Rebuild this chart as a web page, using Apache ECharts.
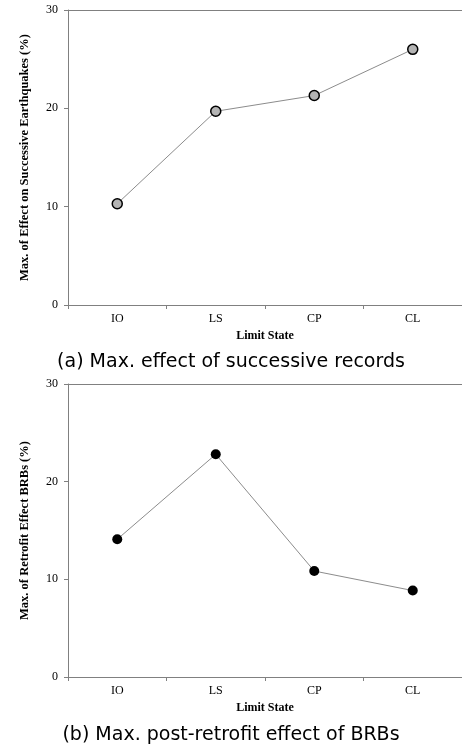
<!DOCTYPE html>
<html>
<head>
<meta charset="utf-8">
<script src="https://cdn.jsdelivr.net/npm/echarts@6/dist/echarts.min.js"></script>
<style>html,body{margin:0;padding:0;background:#fff}#c{width:462px;height:746px}</style>
</head>
<body>
<div id="c"></div>
<script>
var categories = ['IO', 'LS', 'CP', 'CL'];
var successiveEffect = [10.3, 19.7, 21.3, 26.0];
var retrofitEffect = [14.1, 22.8, 10.85, 8.85];
var yTicks = [0, 10, 20, 30];
var captionA = '(a) Max. effect of successive records';
var captionB = '(b) Max. post-retrofit effect of BRBs';
var yNameA = 'Max. of Effect on Successive Earthquakes (%)';
var yNameB = 'Max. of Retrofit Effect BRBs (%)';
var xName = 'Limit State';

var serif = '"Liberation Serif", "Times New Roman", serif';
var sans = '"DejaVu Sans", sans-serif';
var axisColor = '#808080';

function xAxisCfg(gi) {
  return {
    type: 'category', gridIndex: gi, data: categories, boundaryGap: true, position: 'bottom',
    axisLine: {lineStyle: {color: axisColor, width: 1}},
    axisTick: {show: true, inside: false, length: 4, lineStyle: {color: axisColor}},
    axisLabel: {fontFamily: serif, fontSize: 12, color: '#000', margin: 8},
    name: xName, nameLocation: 'middle', nameGap: 25,
    nameTextStyle: {fontFamily: serif, fontSize: 12, fontWeight: 'bold', color: '#000'}
  };
}
function topAxisCfg(gi) {
  return {
    type: 'category', gridIndex: gi, data: categories, boundaryGap: true, position: 'top',
    axisLine: {show: true, lineStyle: {color: axisColor, width: 1}},
    axisTick: {show: false}, axisLabel: {show: false}, splitLine: {show: false}
  };
}
function yAxisCfg(gi, nm) {
  return {
    type: 'value', gridIndex: gi, min: yTicks[0], max: yTicks[yTicks.length - 1], interval: 10,
    axisLine: {show: true, lineStyle: {color: axisColor, width: 1}},
    axisTick: {show: true, inside: false, length: 4, lineStyle: {color: axisColor}},
    axisLabel: {fontFamily: serif, fontSize: 12, color: '#000', margin: 10},
    splitLine: {show: false},
    name: nm, nameLocation: 'middle', nameGap: 37, nameRotate: 90,
    nameTextStyle: {fontFamily: serif, fontSize: 12.5, fontWeight: 'bold', color: '#000'}
  };
}

var chart = echarts.init(document.getElementById('c'), null, {renderer: 'canvas'});
chart.setOption({
  animation: false,
  backgroundColor: '#fff',
  title: [
    {text: captionA, left: 'center', top: 348, textStyle: {fontFamily: sans, fontSize: 19, fontWeight: 'normal', color: '#000'}},
    {text: captionB, left: 'center', top: 721, textStyle: {fontFamily: sans, fontSize: 19, fontWeight: 'normal', color: '#000'}}
  ],
  grid: [
    {left: 68, right: -3, top: 10, height: 295},
    {left: 68, right: -3, top: 384, height: 293}
  ],
  xAxis: [xAxisCfg(0), xAxisCfg(1), topAxisCfg(0), topAxisCfg(1)],
  yAxis: [yAxisCfg(0, yNameA), yAxisCfg(1, yNameB)],
  series: [
    {type: 'line', xAxisIndex: 0, yAxisIndex: 0, data: successiveEffect,
     symbol: 'circle', symbolSize: 10,
     lineStyle: {color: '#8c8c8c', width: 1},
     itemStyle: {color: '#b4b4b4', borderColor: '#000', borderWidth: 1.5}},
    {type: 'line', xAxisIndex: 1, yAxisIndex: 1, data: retrofitEffect,
     symbol: 'circle', symbolSize: 10,
     lineStyle: {color: '#8c8c8c', width: 1},
     itemStyle: {color: '#000', borderColor: '#000', borderWidth: 0}}
  ]
});
</script>
</body>
</html>
